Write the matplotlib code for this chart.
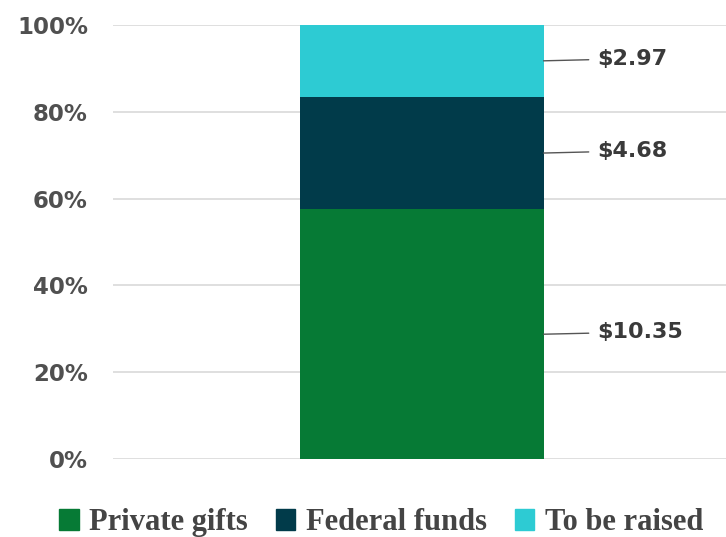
import matplotlib.pyplot as plt
from matplotlib.patches import Patch

# funding sources, millions of dollars
names = ['Private gifts', 'Federal funds', 'To be raised']
amounts = [10.35, 4.68, 2.97]
labels = ['$10.35', '$4.68', '$2.97']
colors = ['#067a35', '#013b4a', '#2dcbd3']
ticks = [0, 20, 40, 60, 80, 100]

total = sum(amounts)
shares = [a / total * 100 for a in amounts]

fig = plt.figure(figsize=(7.26, 5.37), dpi=100)
ax = fig.add_axes([0.1556, 0.1453, 0.8444, 0.8081])

bottom = 0
for s, c, lab in zip(shares, colors, labels):
    ax.bar(0, s, width=1.0, bottom=bottom, color=c, zorder=3)
    mid = bottom + s / 2
    ax.annotate(lab, xy=(0.5, mid), xytext=(0.72, mid + 0.5),
                fontsize=16, fontweight='bold', color='#3a3a3a',
                va='center', ha='left',
                arrowprops=dict(arrowstyle='-', color='#555555', lw=1,
                                shrinkA=4, shrinkB=0))
    bottom += s

ax.set_xlim(-1.27, 1.25)
ax.set_ylim(0, 100)
ax.set_yticks(ticks)
ax.set_yticklabels([f'{t}%' for t in ticks], fontsize=16.5, fontweight='bold',
                   color='#505050')
ax.set_xticks([])
ax.tick_params(axis='y', length=0, pad=18)
ax.grid(axis='y', color='#d9d9d9', lw=1.2, zorder=0)
for sp in ax.spines.values():
    sp.set_visible(False)

handles = [Patch(color=c) for c in colors]
fig.legend(handles, names, loc='lower center', bbox_to_anchor=(0.525, -0.052),
           ncol=3, frameon=False, handlelength=0.65, handleheight=0.65,
           handletextpad=0.35, columnspacing=0.9,
           prop=dict(family='Liberation Serif', size=22, weight='bold'),
           labelcolor='#444444')

fig.savefig('out.png', dpi=100)
